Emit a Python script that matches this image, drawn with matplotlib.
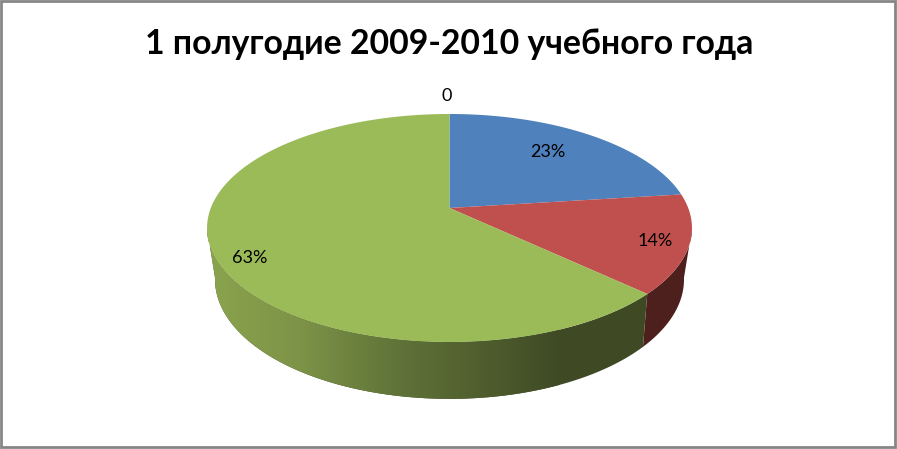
import matplotlib
matplotlib.use('Agg')
import matplotlib.pyplot as plt
import numpy as np
from matplotlib.colors import LinearSegmentedColormap
from matplotlib.patches import Polygon, Rectangle

# values, clockwise from 12 o'clock
categories = ['a', 'b', 'c', 'd']
shares = [0, 23, 14, 63]
labels = ['0', '23%', '14%', '63%']
top_colors = ['#4f81bd', '#4f81bd', '#c0504d', '#9bbb59']
side_colors = ['#2a4564', '#2a4564', '#4d1f1d', '#3f4a25']
title = '1 полугодие 2009-2010 учебного года'

W, H = 897, 449


def project(theta, bottom=False):
    # tilted disc with perspective, the bottom face sits further from the viewer
    if bottom:
        p, ax_x, ax_y, y0 = 0.195, 230.0, 115.0, 256.0
    else:
        p, ax_x, ax_y, y0 = 0.1754, 238.7, 110.5, 208.0
    u, v = np.sin(theta), np.cos(theta)
    den = 1 + p * v
    return 449.5 + ax_x * u / den, y0 - ax_y * v / den


plt.rcParams['font.family'] = ['Lato', 'Open Sans', 'DejaVu Sans']

fig = plt.figure(figsize=(W / 100, H / 100), dpi=100)
ax = fig.add_axes([0, 0, 1, 1])
ax.set_xlim(0, W)
ax.set_ylim(H, 0)
ax.axis('off')

ax.add_patch(Rectangle((1, 1), W - 3, H - 3, fc='white', ec='#868686', lw=2))

edges = np.cumsum([0] + shares) / sum(shares) * 2 * np.pi
front_from, front_to = np.radians(100.5), np.radians(259.5)

# outer wall, only the visible front part
for i in range(len(shares)):
    a0, a1 = max(edges[i], front_from), min(edges[i + 1], front_to)
    if a0 >= a1:
        continue
    t = np.linspace(a0, a1, 160)
    xt, yt = project(t)
    xb, yb = project(t, bottom=True)
    wall = np.column_stack([np.r_[xt, xb[::-1]], np.r_[yt, yb[::-1]]])
    ax.fill(wall[:, 0], wall[:, 1], color=side_colors[i], lw=0, zorder=1)
    if categories[i] == 'd':
        # green wall has a left to right shading
        cmap = LinearSegmentedColormap.from_list(
            'wall', [(0, '#8ba44e'), (0.26, '#7d9347'), (0.55, '#5f7238'),
                     (0.8, '#4e5c2d'), (1, '#3f4a25')])
        grad = np.linspace(0, 1, 256).reshape(1, -1)
        im = ax.imshow(grad, cmap=cmap, extent=(207, 560, 400, 220), aspect='auto', zorder=2)
        im.set_clip_path(Polygon(wall, transform=ax.transData))

# top face
for i in range(len(shares)):
    if shares[i] == 0:
        continue
    t = np.linspace(edges[i], edges[i + 1], 200)
    x, y = project(t)
    ax.fill(np.r_[449.5, x], np.r_[208, y], color=top_colors[i], lw=0, zorder=4)

ax.set_xlim(0, W)
ax.set_ylim(H, 0)

ax.text(449, 44, title, ha='center', va='center', fontsize=24.3, fontweight='bold', color='black')
label_xy = [(447, 96), (548, 152), (655, 241), (250, 258)]
for s, (lx, ly) in zip(labels, label_xy):
    ax.text(lx, ly, s, ha='center', va='center', fontsize=13, color='black', zorder=6)

fig.savefig('out.png', dpi=100)
